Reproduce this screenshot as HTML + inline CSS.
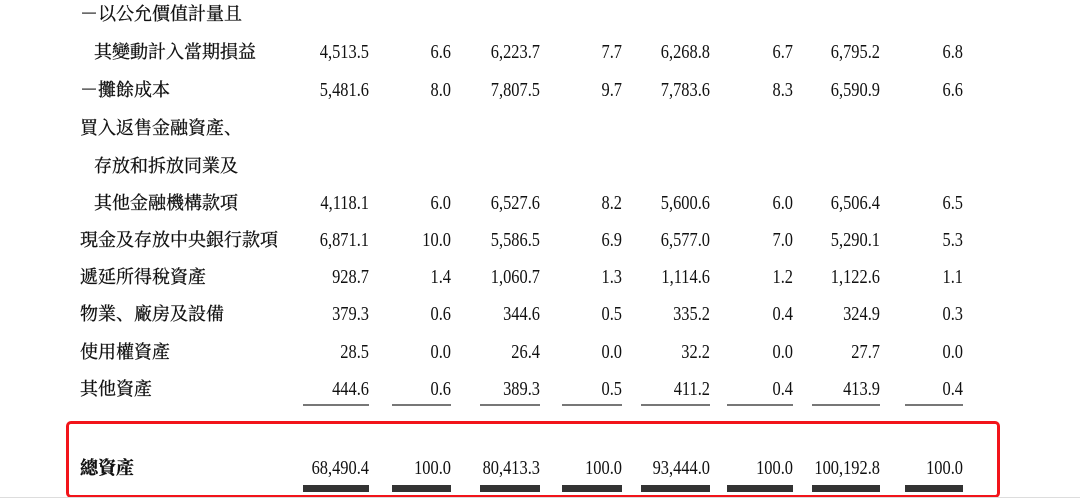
<!DOCTYPE html>
<html><head><meta charset="utf-8"><style>
body{margin:0;width:1080px;height:499px;background:#fff;overflow:hidden;position:relative;font-family:"Liberation Serif","Noto Serif CJK SC","Noto Sans CJK TC",serif;color:#111}
.l{position:absolute;font-size:18px;white-space:nowrap;line-height:20px;font-family:"Liberation Serif","Noto Serif CJK SC",serif;-webkit-text-stroke:0.3px #111}
.n{position:absolute;font-size:20px;line-height:20px;white-space:nowrap;transform:scaleX(0.82);transform-origin:right center;text-align:right;width:120px}
.ul{position:absolute;height:1.5px;background:#777}
.tb{position:absolute;height:7px;background:#333;top:485px}
#box{position:absolute;left:66px;top:421px;width:928px;height:71px;border:3.5px solid #f2141a;border-radius:5px}
</style></head><body>
<div id="box"></div>
<div style="position:absolute;left:0;top:497px;width:1080px;height:1px;background:#ddd"></div>
<script>
const labels=[["－以公允價值計量且",80],["其變動計入當期損益",94],["－攤餘成本",80],["買入返售金融資產、",80],["存放和拆放同業及",94],["其他金融機構款項",94],["現金及存放中央銀行款項",80],["遞延所得稅資產",80],["物業、廠房及設備",80],["使用權資產",80],["其他資產",80],["總資產",80]];
const ys=[14,52,90,128,166,203,240,277,314,352,389,468];
const values=[null,["4,513.5","6.6","6,223.7","7.7","6,268.8","6.7","6,795.2","6.8"],["5,481.6","8.0","7,807.5","9.7","7,783.6","8.3","6,590.9","6.6"],null,null,["4,118.1","6.0","6,527.6","8.2","5,600.6","6.0","6,506.4","6.5"],["6,871.1","10.0","5,586.5","6.9","6,577.0","7.0","5,290.1","5.3"],["928.7","1.4","1,060.7","1.3","1,114.6","1.2","1,122.6","1.1"],["379.3","0.6","344.6","0.5","335.2","0.4","324.9","0.3"],["28.5","0.0","26.4","0.0","32.2","0.0","27.7","0.0"],["444.6","0.6","389.3","0.5","411.2","0.4","413.9","0.4"],["68,490.4","100.0","80,413.3","100.0","93,444.0","100.0","100,192.8","100.0"]];
const rights=[369,451,540,622,710,793,880,963];
const lefts=[303,392,480,562,641,727,812,905];
labels.forEach((lb,i)=>{
  const d=document.createElement('div');d.className='l';
  
  
  d.style.left=lb[1]+'px';d.style.top=(ys[i]-10)+'px';d.textContent=lb[0];
  if(i==11)d.style.fontWeight='bold';
  document.body.appendChild(d);
  const v=values[i];if(!v)return;
  v.forEach((t,j)=>{
    const c=document.createElement('div');c.className='n';
    
    
    c.style.left=(rights[j]-120)+'px';c.style.top=(ys[i]-10)+'px';c.textContent=t;
    document.body.appendChild(c);
  });
});
rights.forEach((r,j)=>{
  const u=document.createElement('div');u.className='ul';
  
  
  u.style.left=lefts[j]+'px';u.style.width=(r-lefts[j])+'px';u.style.top='404px';
  document.body.appendChild(u);
  const b=document.createElement('div');b.className='tb';
  
  
  b.style.left=lefts[j]+'px';b.style.width=(r-lefts[j])+'px';
  document.body.appendChild(b);
});
</script>
</body></html>
